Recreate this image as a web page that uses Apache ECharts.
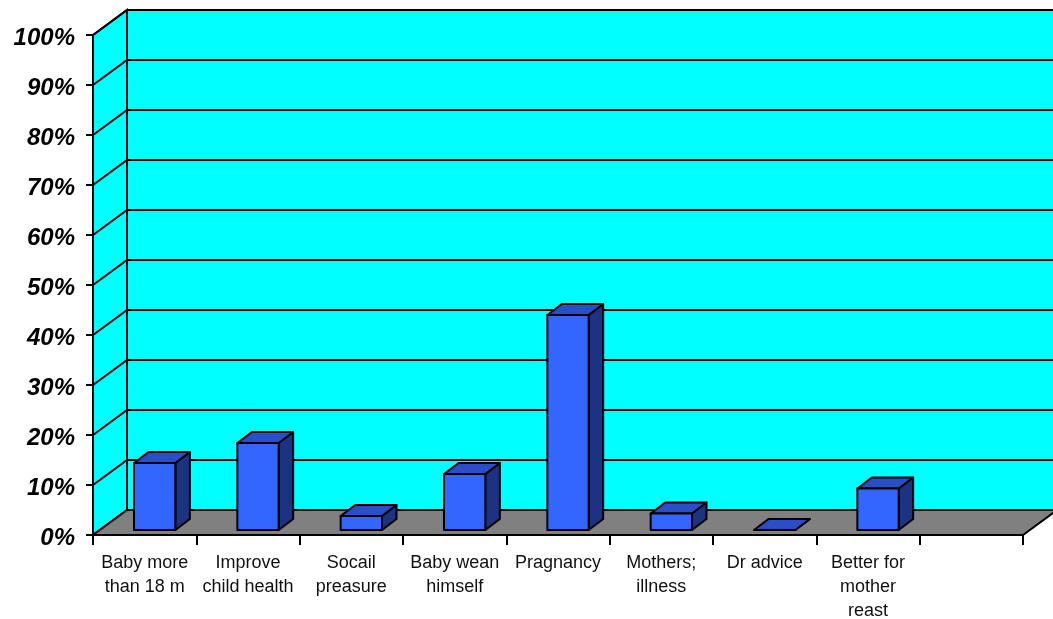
<!DOCTYPE html>
<html>
<head>
<meta charset="utf-8">
<script src="https://cdn.jsdelivr.net/npm/echarts@6/dist/echarts.min.js"></script>
<style>
  html, body { margin: 0; padding: 0; background: #fff; }
  #chart { width: 1053px; height: 619px; }
</style>
</head>
<body>
<div id="chart"></div>
<script>
// categories (the last slot is empty in the original chart)
const categories = [
  'Baby more\nthan 18 m',
  'Improve\nchild health',
  'Socail\npreasure',
  'Baby wean\nhimself',
  'Pragnancy',
  'Mothers;\nillness',
  'Dr advice',
  'Better for\nmother\nreast',
  ''
];
// percent values
const values = [13.4, 17.4, 2.8, 11.2, 43.0, 3.3, 0, 8.3];
const yTicks = [0, 10, 20, 30, 40, 50, 60, 70, 80, 90, 100];

// 3d look: depth offset of the back wall, in pixels
const WALL_DX = 34;
const WALL_DY = -25;
// bar front face offset and bar depth
const BAR_DX = 10;
const BAR_DY = -5;
const BAR_DEPTH_X = 14.5;
const BAR_DEPTH_Y = -11;
const FONT = '"Liberation Sans", Arial, sans-serif';

const chart = echarts.init(document.getElementById('chart'));

// walls, floor and gridlines
const renderWalls = (params, api) => {
  const bw = api.size([1, 0])[0];
  const n = categories.length;
  const left = api.coord([0, 0])[0] - bw / 2;
  const right = api.coord([n - 1, 0])[0] + bw / 2;
  const y0 = api.coord([0, 0])[1];
  const y100 = api.coord([0, 100])[1];
  const line = { stroke: '#000', lineWidth: 2 };
  const children = [];
  // back wall
  children.push({
    type: 'polygon',
    shape: { points: [[left + WALL_DX, y100 + WALL_DY], [right + WALL_DX, y100 + WALL_DY], [right + WALL_DX, y0 + WALL_DY], [left + WALL_DX, y0 + WALL_DY]] },
    style: { fill: '#00FFFF' }
  });
  // side wall
  children.push({
    type: 'polygon',
    shape: { points: [[left, y100], [left + WALL_DX, y100 + WALL_DY], [left + WALL_DX, y0 + WALL_DY], [left, y0]] },
    style: { fill: '#00FFFF', stroke: '#000', lineWidth: 2 }
  });
  // gridlines on both walls
  yTicks.forEach(v => {
    const y = api.coord([0, v])[1];
    children.push({
      type: 'polyline',
      shape: { points: [[left, y], [left + WALL_DX, y + WALL_DY], [right + WALL_DX, y + WALL_DY]] },
      style: Object.assign({ fill: null }, line)
    });
  });
  // floor
  children.push({
    type: 'polygon',
    shape: { points: [[left, y0], [right, y0], [right + WALL_DX, y0 + WALL_DY], [left + WALL_DX, y0 + WALL_DY]] },
    style: { fill: '#808080', stroke: '#000', lineWidth: 2, lineJoin: 'miter' }
  });
  return { type: 'group', children };
};

// one 3d bar
const renderBar = (params, api) => {
  const idx = api.value(0);
  const bw = api.size([1, 0])[0];
  const base = api.coord([idx, 0]);
  const top = api.coord([idx, api.value(1)]);
  const w = bw * 0.4;
  const x1 = base[0] - w / 2 + BAR_DX;
  const x2 = base[0] + w / 2 + BAR_DX;
  const yb = base[1] + BAR_DY;
  const yt = top[1] + BAR_DY;
  const dx = BAR_DEPTH_X;
  const dy = BAR_DEPTH_Y;
  const edge = { stroke: '#000', lineWidth: 2, lineJoin: 'round' };
  return {
    type: 'group',
    children: [
      {
        type: 'polygon',
        shape: { points: [[x2, yt], [x2 + dx, yt + dy], [x2 + dx, yb + dy], [x2, yb]] },
        style: Object.assign({ fill: '#1C3282' }, edge)
      },
      {
        type: 'polygon',
        shape: { points: [[x1, yt], [x1 + dx, yt + dy], [x2 + dx, yt + dy], [x2, yt]] },
        style: Object.assign({ fill: '#2A4DC8' }, edge)
      },
      {
        type: 'rect',
        shape: { x: x1, y: yt, width: x2 - x1, height: yb - yt },
        style: Object.assign({ fill: '#3366FF' }, edge)
      }
    ]
  };
};

chart.setOption({
  animation: false,
  grid: { left: 93, right: 30, top: 35, bottom: 84, containLabel: false, outerBoundsMode: 'none' },
  xAxis: {
    type: 'category',
    data: categories,
    boundaryGap: true,
    z: 10,
    axisLine: { show: true, lineStyle: { color: '#000', width: 2 } },
    axisTick: { show: true, length: 10, lineStyle: { color: '#000', width: 2 } },
    axisLabel: {
      interval: 0,
      margin: 16,
      color: '#111',
      fontFamily: FONT,
      fontSize: 18,
      lineHeight: 24
    },
    splitLine: { show: false }
  },
  yAxis: {
    type: 'value',
    min: 0,
    max: 100,
    interval: 10,
    z: 10,
    axisLine: { show: true, lineStyle: { color: '#000', width: 2 } },
    axisTick: { show: true, length: 7, lineStyle: { color: '#000', width: 2 } },
    axisLabel: {
      formatter: '{p|{value}%}',
      margin: 18,
      rich: {
        p: {
          padding: [6, 0, 0, 0],
          color: '#000',
          fontFamily: FONT,
          fontSize: 24,
          fontWeight: 'bold',
          fontStyle: 'italic'
        }
      }
    },
    splitLine: { show: false }
  },
  series: [
    {
      type: 'custom',
      renderItem: renderWalls,
      data: [[0, 0]],
      clip: false,
      silent: true,
      z: 1
    },
    {
      type: 'custom',
      renderItem: renderBar,
      data: values.map((v, i) => [i, v]),
      clip: false,
      z: 3
    }
  ]
});
</script>
</body>
</html>
